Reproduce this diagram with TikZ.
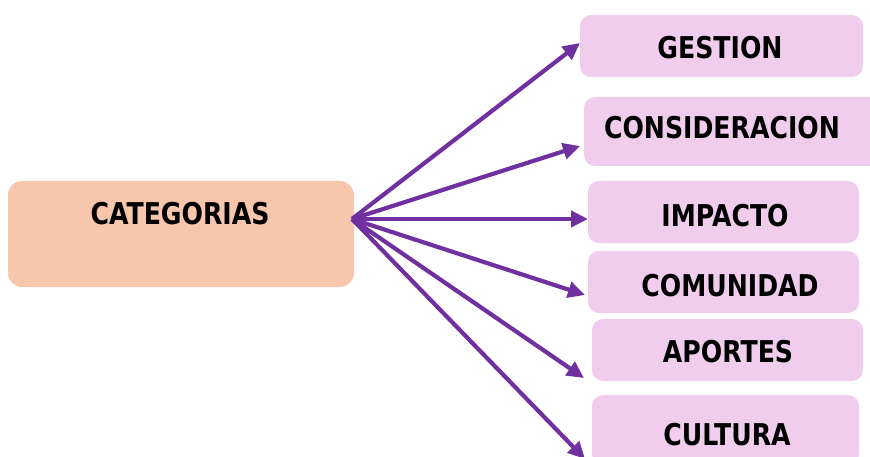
\documentclass[tikz,border=0pt]{standalone}
\usepackage{fontspec}
\setmainfont{DejaVu Sans}[BoldFont={DejaVu Sans Bold},BoldFeatures={FakeStretch=0.84}]
\usetikzlibrary{arrows.meta}
\definecolor{peach}{RGB}{248,198,173}
\definecolor{lpink}{RGB}{240,205,236}
\definecolor{arrowpurple}{RGB}{112,48,160}
\tikzset{
  mainbox/.style={fill=peach, rounded corners=14pt, inner sep=0pt, draw=none},
  catbox/.style={fill=lpink, rounded corners=11pt, inner sep=0pt, draw=none},
  lbl/.style={anchor=base, inner sep=0pt, font=\fontsize{30pt}{32pt}\selectfont\bfseries},
  conn/.style={draw=arrowpurple, line width=4.2pt, -{Triangle[length=17pt,width=16pt]}}
}
\begin{document}
\begin{tikzpicture}[x=1pt,y=-1pt]
\useasboundingbox (0,0) rectangle (870,457);
% boxes
\node[mainbox, minimum width=346pt, minimum height=106pt] (cat) at (181,234) {};
\node[catbox, minimum width=283pt, minimum height=62pt] (ges) at (721.5,46) {};
\node[catbox, minimum width=300pt, minimum height=69pt] (con) at (734,131.5) {};
\node[catbox, minimum width=271pt, minimum height=62pt] (imp) at (723.5,212) {};
\node[catbox, minimum width=271pt, minimum height=62pt] (com) at (723.5,282) {};
\node[catbox, minimum width=271pt, minimum height=62pt] (apo) at (727.5,350) {};
\node[catbox, minimum width=267pt, minimum height=70pt] (cul) at (725.5,430) {};
% labels
\node[lbl] (tcat) at (180,224.5) {CATEGORIAS};
\node[lbl] (tges) at (720,58.5) {GESTION};
\node[lbl] (tcon) at (722,138.5) {CONSIDERACION};
\node[lbl] (timp) at (725,226) {IMPACTO};
\node[lbl] (tcom) at (730,296) {COMUNIDAD};
\node[lbl] (tapo) at (728,362) {APORTES};
\node[lbl] (tcul) at (727,445) {CULTURA};
% connector points
\coordinate (src) at (352,219);
\coordinate (eges) at (580,43);
\coordinate (econ) at (580,146);
\coordinate (eimp) at (588,219);
\coordinate (ecom) at (585,295);
\coordinate (eapo) at (584,378);
\coordinate (ecul) at (585,459);
\foreach \e in {eges,econ,eimp,ecom,eapo,ecul}
  \draw[conn] (src) -- (\e);
\end{tikzpicture}
\end{document}
